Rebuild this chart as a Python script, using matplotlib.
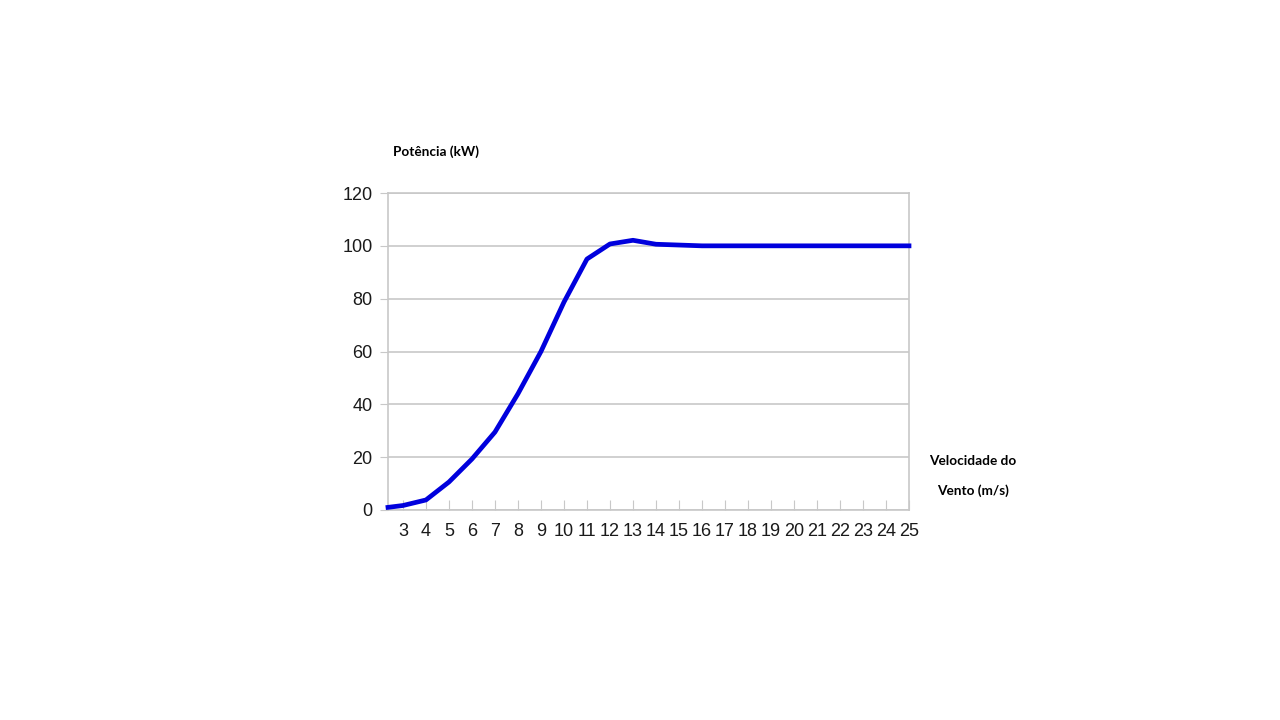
import matplotlib
matplotlib.use("Agg")
import matplotlib.pyplot as plt

wind_speed = [2.35, 3, 4, 5, 6, 7, 8, 9, 10, 11, 12, 13, 14, 15, 16, 17, 18, 19, 20, 21, 22, 23, 24, 25]
power_kw = [1.0, 1.7, 3.8, 10.6, 19.3, 29.5, 44.0, 60.0, 78.7, 95.0, 100.7, 102.1, 100.6, 100.3,
            100.0, 100.0, 100.0, 100.0, 100.0, 100.0, 100.0, 100.0, 100.0, 100.0]
x_ticks = list(range(3, 26))
y_ticks = [0, 20, 40, 60, 80, 100, 120]

fig = plt.figure(figsize=(12.8, 7.2), dpi=100)
ax = fig.add_axes([388/1280, 1-510/720, (909-388)/1280, (510-193)/720])

grid_c = "#c8c8c8"
for y in y_ticks:
    ax.axhline(y, color=grid_c, lw=1.2, zorder=1)
ax.plot(wind_speed, power_kw, color="#0000dd", lw=3.4, solid_joinstyle="round", zorder=3, clip_on=False)

ax.set_xlim(2.35, 25)
ax.set_ylim(0, 120)
ax.set_xticks(x_ticks)
ax.set_xticklabels([str(v) for v in x_ticks], family="Liberation Sans", fontsize=13, color="#1a1a1a")
ax.set_yticks(y_ticks)
ax.set_yticklabels([str(v) for v in y_ticks], family="Liberation Sans", fontsize=13, color="#1a1a1a")
ax.tick_params(axis="x", direction="in", length=7, color=grid_c, pad=9)
ax.tick_params(axis="y", direction="out", length=6, color=grid_c, pad=5)
for s in ax.spines.values():
    s.set_color(grid_c)
    s.set_linewidth(1.2)

fig.text(436/1280, 1-152/720, "Potência (kW)", ha="center", va="center",
         family="Lato", fontweight="bold", fontsize=9.8, color="black")
fig.text(973/1280, 1-461/720, "Velocidade do", ha="center", va="center",
         family="Lato", fontweight="bold", fontsize=9.8, color="black")
fig.text(973/1280, 1-491/720, "Vento (m/s)", ha="center", va="center",
         family="Lato", fontweight="bold", fontsize=9.8, color="black")

fig.savefig("out.png", dpi=100, facecolor="white")
